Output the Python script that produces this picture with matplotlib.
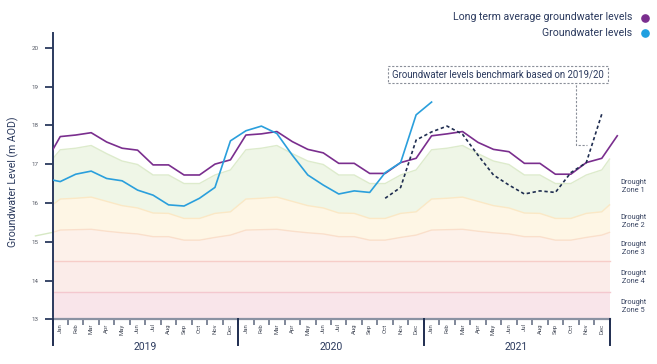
import numpy as np
import matplotlib
matplotlib.use("Agg")
import matplotlib.pyplot as plt
from matplotlib.lines import Line2D

plt.rcParams['font.family'] = ['Roboto', 'DejaVu Sans']

# ---------------- data ----------------
month_names = ['Jan', 'Feb', 'Mar', 'Apr', 'May', 'Jun', 'Jul', 'Aug', 'Sep', 'Oct', 'Nov', 'Dec']
years = ['2019', '2020', '2021']

# long-term average (Jan 2019 .. Dec 2021), plus edge values
lta = [17.71, 17.75, 17.81, 17.57, 17.41, 17.36, 16.98, 16.98, 16.72, 16.72, 17.00, 17.11,
       17.75, 17.78, 17.84, 17.58, 17.38, 17.29, 17.02, 17.02, 16.76, 16.76, 17.04, 17.15,
       17.73, 17.78, 17.84, 17.56, 17.38, 17.32, 17.02, 17.02, 16.74, 16.74, 17.04, 17.15]
lta_start = 17.36
lta_end = 17.73  # Jan 2022

# groundwater levels Jan 2019 .. Jan 2021
gw = [16.55, 16.74, 16.82, 16.63, 16.57, 16.33, 16.20, 15.95, 15.92, 16.12, 16.40, 17.60,
      17.86, 17.98, 17.79, 17.23, 16.72, 16.46, 16.23, 16.31, 16.27, 16.78, 17.04, 18.27,
      18.60]
gw_start = 16.59

# benchmark Oct 2020 .. Dec 2021
bench_first_month = 21
bench = [16.12, 16.40, 17.62, 17.83, 17.98, 17.77, 17.23, 16.72, 16.46, 16.23, 16.31,
         16.27, 16.78, 17.04, 18.29]

# drought zone upper bounds (monthly, repeated seasonal profile)
zone1_top = [17.37, 17.41, 17.48, 17.27, 17.08, 16.99, 16.72, 16.72, 16.50, 16.50, 16.72, 16.85] * 3
zone2_top = [16.10, 16.12, 16.15, 16.04, 15.93, 15.87, 15.74, 15.73, 15.60, 15.60, 15.73, 15.77] * 3
zone3_top = [15.30, 15.31, 15.32, 15.27, 15.23, 15.20, 15.13, 15.13, 15.04, 15.04, 15.11, 15.17] * 3
zone1_edge = 17.13
zone2_edge = 15.95
zone3_edge = 15.24
zone4_top = 14.5
zone5_top = 13.7
zone_floor = 13.0
zone3_lead = [15.15, 15.24]  # small stub left of the axis

zone_labels = ['Drought\nZone 1', 'Drought\nZone 2', 'Drought\nZone 3', 'Drought\nZone 4', 'Drought\nZone 5']
zone_label_levels = [16.43, 15.53, 14.83, 14.07, 13.33]

# ---------------- figure ----------------
W, H = 657, 364
fig = plt.figure(figsize=(W / 100, H / 100), dpi=100)
ax_left, ax_right = 52.5, 620.0
ax_top, ax_bot = 33.0, 319.3
ax = fig.add_axes([ax_left / W, 1 - ax_bot / H, (ax_right - ax_left) / W, (ax_bot - ax_top) / H])

n = len(lta)
xm = np.arange(n)
xz = np.concatenate([[-0.5], xm, [n - 0.5]])

def edged(vals, e):
    return np.concatenate([[e], vals, [e]])

z1 = edged(zone1_top, zone1_edge)
z2 = edged(zone2_top, zone2_edge)
z3 = edged(zone3_top, zone3_edge)
z4 = np.full_like(xz, zone4_top, dtype=float)
z5 = np.full_like(xz, zone5_top, dtype=float)
zf = np.full_like(xz, zone_floor, dtype=float)

fills = [
    (zf, z5, '#f9e5ea', '#f4c8cf'),
    (z5, z4, '#fbece9', '#f6cdc8'),
    (z4, z3, '#fdf1ea', '#fadfcb'),
    (z3, z2, '#fef6e5', '#fbe8c5'),
    (z2, z1, '#eff6e7', '#ddebcc'),
]
for lo, hi, fc, lc in fills:
    ax.fill_between(xz, lo, hi, color=fc, lw=0, zorder=1)
    ax.plot(xz, hi, color=lc, lw=1.0, zorder=2)

ax.plot([-1.6, -0.5], zone3_lead, color='#d6e8c4', lw=1.0, clip_on=False, zorder=2)

# long-term average
x_lta = np.concatenate([[-0.5], xm, [n]])
ax.plot(x_lta, np.concatenate([[lta_start], lta, [lta_end]]), color='#7a2e8e', lw=1.2, zorder=4)

# groundwater levels
x_gw = np.concatenate([[-0.5], np.arange(len(gw))])
ax.plot(x_gw, np.concatenate([[gw_start], gw]), color='#2a9fdc', lw=1.2, zorder=5)

# benchmark
x_b = np.arange(bench_first_month, bench_first_month + len(bench))
ax.plot(x_b, bench, color='#1f2d50', lw=1.2, ls=(0, (2.0, 1.6)), zorder=6)

ax.set_xlim(-0.5, (ax_right - 60.7) / 15.46)
ax.set_ylim(13, 20.38)

# spines
for s in ['top', 'right', 'bottom']:
    ax.spines[s].set_visible(False)
ax.spines['left'].set_color('#2b3a5e')
ax.spines['left'].set_linewidth(1.4)

ax.set_yticks(np.arange(13, 21))
ax.tick_params(axis='y', length=6, width=1.3, color='#2b3a5e', labelsize=4.5,
               labelcolor='#555a66', pad=4)
ax.set_ylabel('Groundwater Level (m AOD)', fontsize=7.6, color='#2b3a5e')
ax.yaxis.set_label_coords((19.5 - ax_left) / (ax_right - ax_left), 0.48)

# x ticks: month names
ax.set_xticks(xm)
ax.set_xticklabels([m for y in years for m in month_names], rotation=90, fontsize=4.3,
                   color='#444a58')
ax.tick_params(axis='x', which='major', length=0, pad=3)
ax.set_xticks(np.arange(-0.5, n, 1.0), minor=True)
ax.tick_params(axis='x', which='minor', length=4.5, width=1.2, color='#6a7388')

# bottom line
ax.plot([-0.5, n - 0.5], [13, 13], color='#8b92a3', lw=1.6, clip_on=False, zorder=7)

# year separators and labels
y_sep = 13 - (345.5 - ax_bot) / 38.8
for xb in [-0.5, 11.5, 23.5, 35.5]:
    ax.plot([xb, xb], [13, y_sep], color='#1f2d50', lw=1.4, clip_on=False, zorder=7)
y_year = 13 - (347 - ax_bot) / 38.8
for i, yr in enumerate(years):
    ax.text(12 * i + 5.5, y_year, yr, ha='center', va='center', fontsize=7.5, color='#2b3a5e')

# zone labels
x_zl = (633.3 - 60.7) / 15.46
for lab, lv in zip(zone_labels, zone_label_levels):
    ax.text(x_zl, lv, lab, ha='center', va='center', fontsize=5.3, color='#3a4663',
            linespacing=1.25, clip_on=False)

# legend
def fx(px):
    return px / W

def fy(py):
    return 1 - py / H

leg = [('Long term average groundwater levels', '#7a2e8e', 17.5),
       ('Groundwater levels', '#1f9fe0', 33.0)]
for txt, col, py in leg:
    fig.text(fx(632), fy(py), txt, ha='right', va='center', fontsize=7.6, color='#2b3a5e')
    fig.add_artist(Line2D([fx(645)], [fy(py)], marker='o', ms=5.2, color=col,
                          transform=fig.transFigure))

# benchmark annotation
fig.text(fx(497.9), fy(74.5), 'Groundwater levels benchmark based on 2019/20',
         ha='center', va='center', fontsize=6.9, color='#2b3a5e',
         bbox=dict(boxstyle='square,pad=0.4', fc='white', ec='#8a8f99', lw=0.8,
                   ls=(0, (2, 1.5))))
fig.add_artist(Line2D([fx(575.5), fx(575.5), fx(587)], [fy(81), fy(145), fy(145)],
                      color='#8a8f99', lw=0.8, ls=(0, (2, 1.5)), transform=fig.transFigure))

fig.savefig('out.png', dpi=100)
